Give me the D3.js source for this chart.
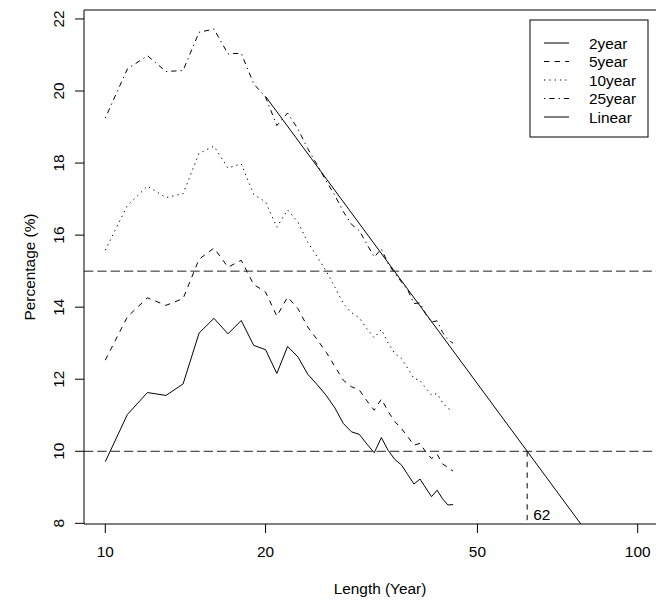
<!DOCTYPE html>
<html>
<head>
<meta charset="utf-8">
<script src="https://cdn.jsdelivr.net/npm/d3@7"></script>
<style>
  html, body { margin: 0; padding: 0; background: #fff; }
  svg { display: block; }
</style>
</head>
<body>
<svg id="chart"></svg>
<script>
// record length (years) used for each point
const years = [10, 11, 12, 13, 14, 15, 16, 17, 18, 19, 20, 21, 22, 23, 24, 25, 26, 27,
  28, 29, 30, 31, 32, 33, 34, 35, 36, 37, 38, 39, 40, 41, 42, 43, 44, 45];

const twoYear = [9.71, 11.02, 11.63, 11.55, 11.87, 13.28, 13.69, 13.26, 13.63, 12.94, 12.82, 12.16,
  12.91, 12.62, 12.14, 11.85, 11.55, 11.2, 10.77, 10.54, 10.47, 10.2, 9.96, 10.38,
  10.02, 9.77, 9.62, 9.35, 9.09, 9.23, 8.98, 8.74, 8.92, 8.68, 8.51, 8.52];

const fiveYear = [12.53, 13.73, 14.26, 14.05, 14.24, 15.33, 15.64, 15.11, 15.3, 14.63, 14.42, 13.75,
  14.28, 13.96, 13.45, 13.1, 12.75, 12.35, 11.97, 11.79, 11.7, 11.4, 11.14, 11.45,
  11.1, 10.82, 10.63, 10.4, 10.17, 10.22, 9.98, 9.8, 9.92, 9.65, 9.55, 9.45];

const tenYear = [15.58, 16.82, 17.36, 17.04, 17.15, 18.27, 18.47, 17.86, 17.98, 17.13, 16.92, 16.22,
  16.7, 16.36, 15.8, 15.4, 15.0, 14.55, 14.1, 13.85, 13.7, 13.4, 13.15, 13.38,
  13.0, 12.71, 12.57, 12.3, 12.02, 11.97, 11.75, 11.56, 11.6, 11.35, 11.19, 11.12];

const twentyFiveYear = [19.25, 20.61, 20.98, 20.54, 20.57, 21.63, 21.72, 21.03, 21.05, 20.2, 19.83, 19.04,
  19.39, 18.95, 18.4, 17.95, 17.5, 17.1, 16.65, 16.3, 16.12, 15.75, 15.39, 15.62,
  15.2, 14.93, 14.7, 14.47, 14.1, 14.12, 13.8, 13.59, 13.62, 13.3, 13.1, 13.0];

// fitted line (log-linear), two end points
const linearX = [20, 100];
const linearY = [19.85, 5.84];

const seriesNames = ['2year', '5year', '10year', '25year', 'Linear'];
const thresholds = [15, 10];
const crossing = { x: 62, y: 10 };

const xLimits = [10, 100];
const xTicks = [10, 20, 50, 100];
const yTicks = [8, 10, 12, 14, 16, 18, 20, 22];

class ReturnChart {
  constructor() {
    this.draw();
  }

  draw() {
    const width = 656;
    const height = 608;
    const font = '15.4px "Liberation Sans", Arial, sans-serif';
    const lineH = 18.5;
    const plot = { left: 84, right: 659, top: 10, bottom: 524 };

    // R style 4% padding around the limits
    const lx = xLimits.map(Math.log10);
    const px = (lx[1] - lx[0]) * 0.04;
    const x = d3.scaleLog()
      .domain([10 ** (lx[0] - px), 10 ** (lx[1] + px)])
      .range([plot.left, plot.right]);

    const all = twoYear.concat(fiveYear, tenYear, twentyFiveYear);
    const yMin = d3.min(all);
    const yMax = d3.max(all);
    const py = (yMax - yMin) * 0.04;
    const y = d3.scaleLinear()
      .domain([yMin - py, yMax + py])
      .range([plot.bottom, plot.top]);

    const svg = d3.select('#chart')
      .attr('width', width)
      .attr('height', height)
      .style('font', font);

    svg.append('defs')
      .append('clipPath')
      .attr('id', 'plotClip')
      .append('rect')
      .attr('x', plot.left)
      .attr('y', plot.top)
      .attr('width', plot.right - plot.left)
      .attr('height', plot.bottom - plot.top);

    const styles = [
      { key: twoYear, dash: null },
      { key: fiveYear, dash: '5.3,5.3' },
      { key: tenYear, dash: '1.3,4' },
      { key: twentyFiveYear, dash: '1.3,4,5.3,4' }
    ];

    const g = svg.append('g')
      .attr('clip-path', 'url(#plotClip)')
      .attr('fill', 'none')
      .attr('stroke', '#000')
      .attr('stroke-width', 1);

    const line = d3.line()
      .x(d => x(d[0]))
      .y(d => y(d[1]));

    styles.forEach(s => {
      g.append('path')
        .attr('d', line(years.map((yr, i) => [yr, s.key[i]])))
        .attr('stroke-dasharray', s.dash);
    });

    g.append('path')
      .attr('d', line(linearX.map((v, i) => [v, linearY[i]])));

    // horizontal reference levels
    g.selectAll('line.level')
      .data(thresholds)
      .enter()
      .append('line')
      .attr('class', 'level')
      .attr('x1', plot.left)
      .attr('x2', plot.right)
      .attr('y1', d => y(d))
      .attr('y2', d => y(d))
      .attr('stroke', '#222')
      .attr('stroke-dasharray', '9.3,4');

    g.append('line')
      .attr('x1', x(crossing.x))
      .attr('x2', x(crossing.x))
      .attr('y1', y(crossing.y))
      .attr('y2', plot.bottom)
      .attr('stroke-dasharray', '5.3,5.3');

    svg.append('text')
      .attr('x', x(crossing.x) + 6)
      .attr('y', plot.bottom - 4)
      .text(crossing.x);

    // box
    svg.append('path')
      .attr('d', `M${plot.right},${plot.top}H${plot.left}V${plot.bottom}H${plot.right}`)
      .attr('fill', 'none')
      .attr('stroke', '#000');

    // x axis
    const xa = svg.append('g');
    xa.selectAll('line')
      .data(xTicks)
      .enter()
      .append('line')
      .attr('x1', d => x(d))
      .attr('x2', d => x(d))
      .attr('y1', plot.bottom)
      .attr('y2', plot.bottom + 9)
      .attr('stroke', '#000');
    xa.selectAll('text')
      .data(xTicks)
      .enter()
      .append('text')
      .attr('x', d => x(d))
      .attr('y', plot.bottom + 1.8 * lineH)
      .attr('text-anchor', 'middle')
      .text(d => d);

    // y axis
    const ya = svg.append('g');
    ya.selectAll('line')
      .data(yTicks)
      .enter()
      .append('line')
      .attr('x1', plot.left - 9)
      .attr('x2', plot.left)
      .attr('y1', d => y(d))
      .attr('y2', d => y(d))
      .attr('stroke', '#000');
    ya.selectAll('text')
      .data(yTicks)
      .enter()
      .append('text')
      .attr('transform', d => `translate(${plot.left - 20},${y(d)}) rotate(-90)`)
      .attr('text-anchor', 'middle')
      .text(d => d);

    svg.append('text')
      .attr('x', (plot.left + width) / 2 + 10)
      .attr('y', plot.bottom + 3.8 * lineH)
      .attr('text-anchor', 'middle')
      .text('Length (Year)');

    svg.append('text')
      .attr('transform', `translate(${plot.left - 49},${(plot.top + plot.bottom) / 2}) rotate(-90)`)
      .attr('text-anchor', 'middle')
      .text('Percentage (%)');

    // legend
    const leg = { left: 530, right: 648, top: 20, bottom: 137 };
    svg.append('rect')
      .attr('x', leg.left)
      .attr('y', leg.top)
      .attr('width', leg.right - leg.left)
      .attr('height', leg.bottom - leg.top)
      .attr('fill', '#fff')
      .attr('stroke', '#000');

    const dashes = styles.map(s => s.dash).concat([null]);
    const item = svg.append('g')
      .selectAll('g')
      .data(seriesNames)
      .enter()
      .append('g')
      .attr('transform', (d, i) => `translate(0,${leg.top + 23 + i * lineH})`);
    item.append('line')
      .attr('x1', leg.left + 14)
      .attr('x2', leg.left + 39)
      .attr('stroke', '#000')
      .attr('stroke-dasharray', (d, i) => dashes[i]);
    item.append('text')
      .attr('x', leg.left + 59)
      .attr('dy', '0.36em')
      .text(d => d);
  }
}

new ReturnChart();
</script>
</body>
</html>
